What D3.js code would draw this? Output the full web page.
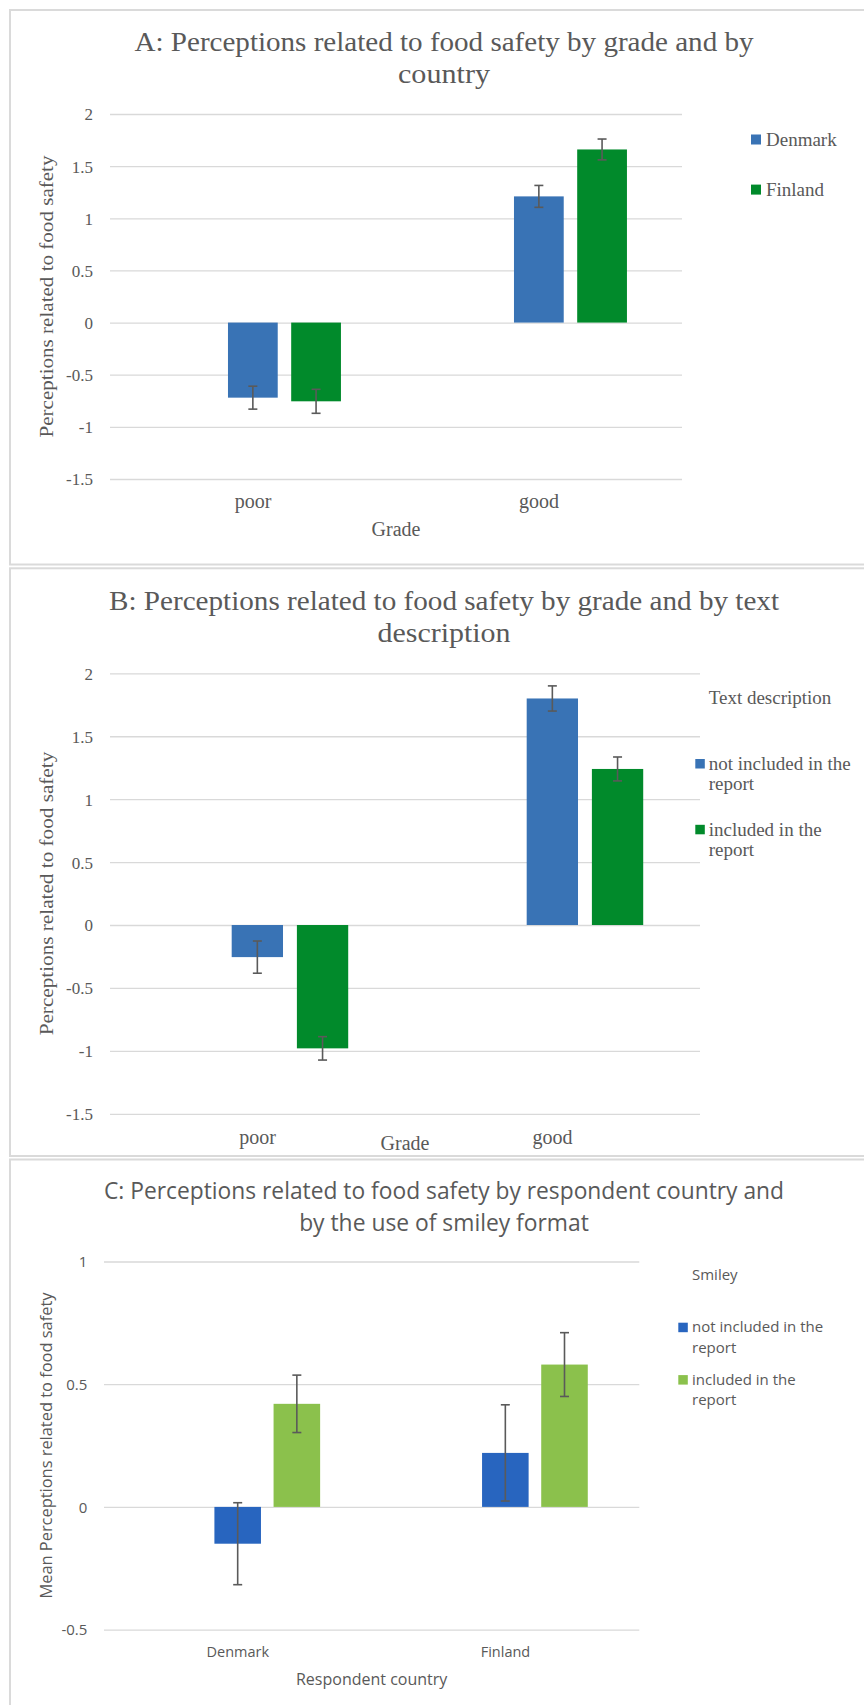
<!DOCTYPE html>
<html>
<head>
<meta charset="utf-8">
<script src="https://cdn.jsdelivr.net/npm/d3@7"></script>
<style>
  html, body { margin: 0; padding: 0; background: #ffffff; }
  svg { display: block; }
</style>
</head>
<body>
<svg id="chart" width="864" height="1705"></svg>
<script>
// ---------------- DATA ----------------
const gradeCategories   = ["poor", "good"];
const countryCategories = ["Denmark", "Finland"];

// Panel A: by grade and by country
const seriesA        = ["Denmark", "Finland"];
const legendLabelsA  = [["Denmark"], ["Finland"]];
const meanA_Denmark  = [-0.72, 1.21];
const meanA_Finland  = [-0.755, 1.66];
const errA_Denmark   = [0.11, 0.105];
const errA_Finland   = [0.115, 0.10];

// Panel B: by grade and by text description
const seriesB             = ["not included in the report", "included in the report"];
const legendLabelsB       = [["not included in the", "report"], ["included in the", "report"]];
const meanB_notIncluded   = [-0.255, 1.80];
const meanB_included      = [-0.98, 1.24];
const errB_notIncluded    = [0.128, 0.10];
const errB_included       = [0.093, 0.095];

// Panel C: by respondent country and by smiley format
const seriesC             = ["not included in the report", "included in the report"];
const legendLabelsC       = [["not included in the", "report"], ["included in the", "report"]];
const meanC_notIncluded   = [-0.15, 0.22];
const meanC_included      = [0.42, 0.58];
const errC_notIncluded    = [0.167, 0.196];
const errC_included       = [0.117, 0.13];

const ticksAB = [2, 1.5, 1, 0.5, 0, -0.5, -1, -1.5];
const ticksC  = [1, 0.5, 0, -0.5];

// ---------------- STYLE / LAYOUT ----------------
const SERIF = "'Liberation Serif', 'DejaVu Serif', serif";
const SANS  = "'Open Sans', 'Noto Sans', sans-serif";
const TEXT  = "#595959";
const GRID  = "#d9d9d9";
const ERR   = "#5a5a5a";

const panels = [
  {
    frame: {x: 10, y: 10, h: 554.5},
    plot: {x0: 110, x1: 682, yTop: 114, yBot: 479},
    domain: [-1.5, 2], ticks: ticksAB, tickPad: 17, tickSize: 17,
    cats: gradeCategories, series: seriesA,
    means: [meanA_Denmark, meanA_Finland], errs: [errA_Denmark, errA_Finland],
    colors: ["#3973b5", "#018a2b"], font: SERIF,
    title: ["A: Perceptions related to food safety by grade and by", "country"],
    titleY: [51, 82.5], titleW: [619, 92], titleSize: 28, titleX: 444,
    yTitle: "Perceptions related to food safety", yTitleX: 53, yTitleW: 282, yTitleSize: 18,
    catY: 508, catSize: 20,
    xTitle: "Grade", xTitleY: 536, xTitleSize: 20,
    legend: {header: null, labels: legendLabelsA, size: 19, sqX: 751, sq: 10, textX: 766,
             baselines: [145.5, 195.6], lh: 20, sqOff: 11}
  },
  {
    frame: {x: 10, y: 568.3, h: 587.7},
    plot: {x0: 110, x1: 700, yTop: 673.3, yBot: 1113.8},
    domain: [-1.5, 2], ticks: ticksAB, tickPad: 17, tickSize: 17,
    cats: gradeCategories, series: seriesB,
    means: [meanB_notIncluded, meanB_included], errs: [errB_notIncluded, errB_included],
    colors: ["#3973b5", "#018a2b"], font: SERIF,
    title: ["B: Perceptions related to food safety by grade and by text", "description"],
    titleY: [609.7, 641.5], titleW: [670, 133], titleSize: 28, titleX: 444,
    yTitle: "Perceptions related to food safety", yTitleX: 53, yTitleW: 283.6, yTitleSize: 18,
    catY: 1143.6, catSize: 20,
    xTitle: "Grade", xTitleY: 1149.5, xTitleSize: 20,
    legend: {header: "Text description", headerX: 708.7, headerY: 703.5, labels: legendLabelsB, size: 19,
             sqX: 695.3, sq: 9.5, textX: 708.7, baselines: [769.7, 835.5], lh: 20, sqOff: 10.7}
  },
  {
    frame: {x: 10, y: 1159.5, h: 600},
    plot: {x0: 104, x1: 639.3, yTop: 1261.5, yBot: 1629.6},
    domain: [-0.5, 1], ticks: ticksC, tickPad: 16.7, tickSize: 15,
    cats: countryCategories, series: seriesC,
    means: [meanC_notIncluded, meanC_included], errs: [errC_notIncluded, errC_included],
    colors: ["#2865bf", "#8bc14c"], font: SANS,
    title: ["C: Perceptions related to food safety by respondent country and", "by the use of smiley format"],
    titleY: [1198.8, 1230.7], titleW: [680, 289.7], titleSize: 23, titleX: 444,
    yTitle: "Mean Perceptions related to food safety", yTitleX: 51.5, yTitleW: 306, yTitleSize: 16,
    catY: 1657, catSize: 14.5,
    xTitle: "Respondent country", xTitleY: 1684.5, xTitleSize: 16,
    legend: {header: "Smiley", headerX: 692, headerY: 1280, labels: legendLabelsC, size: 15,
             sqX: 678.3, sq: 9.5, textX: 692, baselines: [1332.3, 1384.7], lh: 20.5, sqOff: 9.6}
  }
];

// bar geometry relative to the category step
const BAR_OFFSET = 0.11;   // group centre shift to the right
const GROUP_W    = 0.395;  // width of the 2-bar group
const INNER_PAD  = 0.213;  // gap between bars within a group

const svg = d3.select("#chart");

function fit(sel, w) {
  sel.each(function () {
    const cur = this.getComputedTextLength();
    if (Math.abs(cur - w) > 1) {
      d3.select(this).attr("textLength", w).attr("lengthAdjust", "spacingAndGlyphs");
    }
  });
}

panels.forEach(p => {
  const g = svg.append("g");

  // frame
  g.append("rect")
    .attr("x", p.frame.x).attr("y", p.frame.y)
    .attr("width", 900).attr("height", p.frame.h)
    .attr("fill", "#ffffff").attr("stroke", "#dadada").attr("stroke-width", 2);

  // scales
  const y = d3.scaleLinear().domain(p.domain).range([p.plot.yBot, p.plot.yTop]);
  const x = d3.scaleBand().domain(p.cats).range([p.plot.x0, p.plot.x1]).padding(0);
  const step = x.step();
  const inner = d3.scaleBand().domain(p.series)
    .range([0, GROUP_W * step]).paddingInner(INNER_PAD).paddingOuter(0);
  const groupLeft = c => x(c) + step / 2 + BAR_OFFSET * step - GROUP_W * step / 2;

  // y axis with gridlines
  const axis = d3.axisLeft(y)
    .tickValues(p.ticks)
    .tickSize(-(p.plot.x1 - p.plot.x0))
    .tickPadding(p.tickPad)
    .tickFormat(d => String(d));
  const ag = g.append("g").attr("transform", `translate(${p.plot.x0},0)`).call(axis);
  ag.select(".domain").remove();
  ag.selectAll(".tick line").attr("stroke", GRID).attr("stroke-width", 1.3);
  ag.selectAll(".tick text")
    .attr("fill", TEXT).attr("font-family", p.font).attr("font-size", p.tickSize)
    .attr("dy", "0.35em");

  // bars
  p.series.forEach((s, si) => {
    const rows = p.cats.map((c, ci) => ({c, v: p.means[si][ci], e: p.errs[si][ci]}));
    g.append("g").selectAll("rect").data(rows).join("rect")
      .attr("x", d => groupLeft(d.c) + inner(s))
      .attr("width", inner.bandwidth())
      .attr("y", d => y(Math.max(0, d.v)))
      .attr("height", d => Math.abs(y(d.v) - y(0)))
      .attr("fill", p.colors[si]);

    // error bars
    const eg = g.append("g").attr("stroke", ERR).attr("stroke-width", 1.6).attr("fill", "none");
    const cx = d => groupLeft(d.c) + inner(s) + inner.bandwidth() / 2;
    eg.selectAll("line.v").data(rows).join("line").attr("class", "v")
      .attr("x1", cx).attr("x2", cx)
      .attr("y1", d => y(d.v + d.e)).attr("y2", d => y(d.v - d.e));
    [1, -1].forEach(sign => {
      eg.selectAll("line.c" + (sign > 0 ? "t" : "b")).data(rows).join("line")
        .attr("class", "c" + (sign > 0 ? "t" : "b"))
        .attr("x1", d => cx(d) - 4.5).attr("x2", d => cx(d) + 4.5)
        .attr("y1", d => y(d.v + sign * d.e)).attr("y2", d => y(d.v + sign * d.e));
    });
  });

  // category labels
  g.append("g").selectAll("text").data(p.cats).join("text")
    .attr("x", d => x(d) + x.bandwidth() / 2)
    .attr("y", p.catY)
    .attr("text-anchor", "middle")
    .attr("fill", TEXT).attr("font-family", p.font).attr("font-size", p.catSize)
    .text(d => d);

  // x axis title
  g.append("text")
    .attr("x", (p.plot.x0 + p.plot.x1) / 2).attr("y", p.xTitleY)
    .attr("text-anchor", "middle")
    .attr("fill", TEXT).attr("font-family", p.font).attr("font-size", p.xTitleSize)
    .text(p.xTitle);

  // y axis title
  const yt = g.append("text")
    .attr("transform", `translate(${p.yTitleX},${(p.plot.yTop + p.plot.yBot) / 2}) rotate(-90)`)
    .attr("text-anchor", "middle")
    .attr("fill", TEXT).attr("font-family", p.font).attr("font-size", p.yTitleSize)
    .text(p.yTitle);
  fit(yt, p.yTitleW);

  // chart title
  p.title.forEach((line, i) => {
    const t = g.append("text")
      .attr("x", p.titleX).attr("y", p.titleY[i])
      .attr("text-anchor", "middle")
      .attr("fill", TEXT).attr("font-family", p.font).attr("font-size", p.titleSize)
      .text(line);
    fit(t, p.titleW[i]);
  });

  // legend
  const L = p.legend;
  const lg = g.append("g").attr("font-family", p.font).attr("font-size", L.size).attr("fill", TEXT);
  if (L.header) {
    lg.append("text").attr("x", L.headerX).attr("y", L.headerY).text(L.header);
  }
  p.series.forEach((s, si) => {
    const base = L.baselines[si];
    lg.append("rect")
      .attr("x", L.sqX).attr("y", base - L.sqOff)
      .attr("width", L.sq).attr("height", L.sq)
      .attr("fill", p.colors[si]);
    L.labels[si].forEach((ln, li) => {
      lg.append("text").attr("x", L.textX).attr("y", base + li * L.lh).text(ln);
    });
  });
});
</script>
</body>
</html>
